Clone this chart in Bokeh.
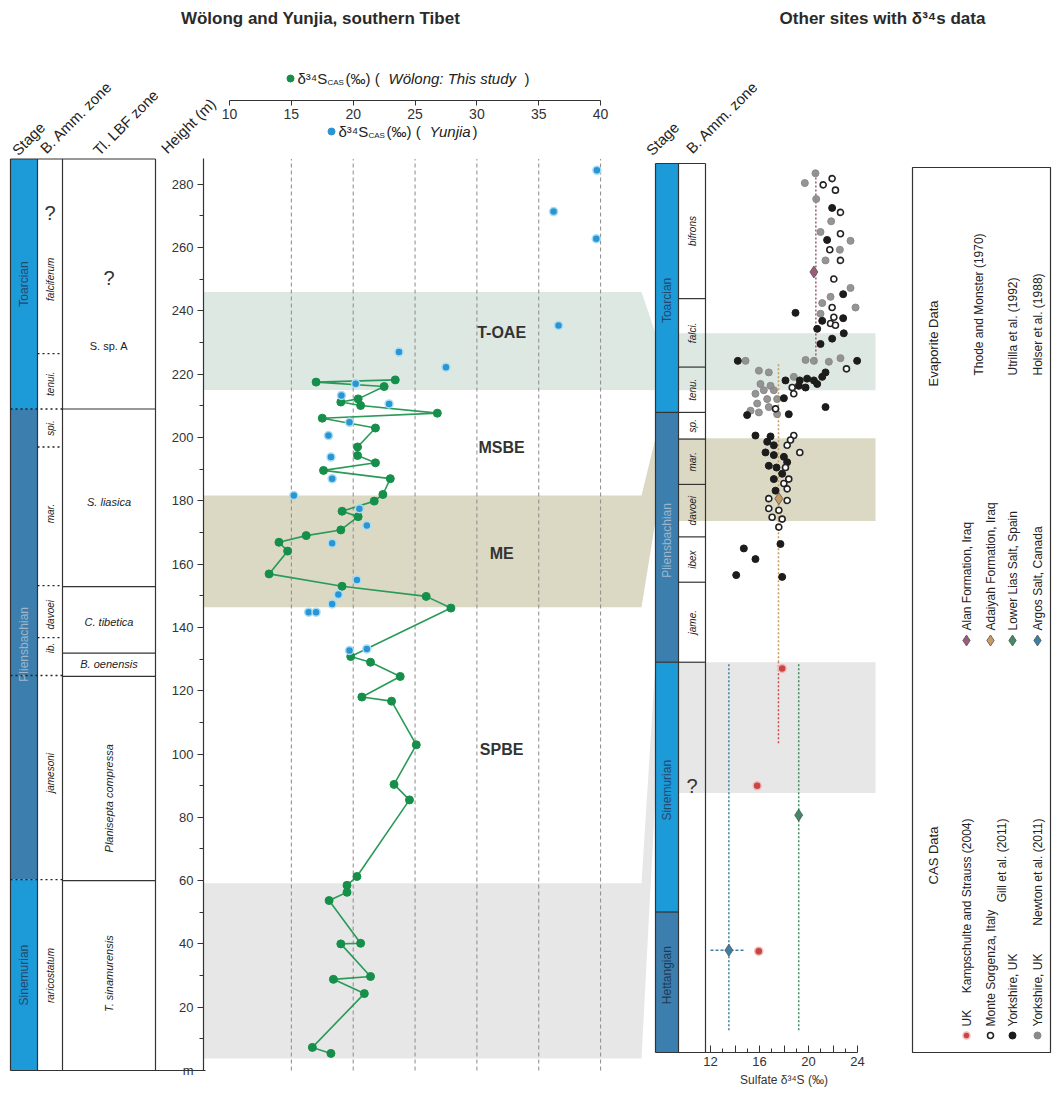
import numpy as np
from bokeh.plotting import figure
from bokeh.models import Range1d, LinearAxis, FixedTicker
from bokeh.core.properties import value
from bokeh.embed import file_html
from bokeh.resources import INLINE

FONT = "Liberation Sans"
W, H, M = 1052, 1093, 0

# ================= DATA =================
# Wolong (this study): height (m) and d34S_CAS (permil)
wol_height = [218.2, 217.5, 216.1, 212.2, 211.2, 210.1, 207.7, 206.1, 203.0, 197.0, 194.3, 192.0,
              189.6, 187.0, 182.0, 179.9, 176.7, 175.0, 170.8, 169.0, 166.9, 164.1, 156.9, 153.0,
              149.8, 146.1, 130.8, 129.0, 124.5, 118.0, 116.7, 102.9, 90.4, 85.5, 61.3, 58.5,
              56.3, 53.7, 40.2, 40.0, 29.7, 28.8, 24.3, 7.3, 5.4]
wol_d34s = [23.4, 17.0, 22.5, 20.4, 19.0, 20.6, 26.8, 17.5, 21.8, 20.35, 20.35, 21.8,
            17.6, 23.0, 22.4, 21.7, 19.1, 20.4, 19.0, 16.2, 14.0, 14.7, 13.2, 19.1,
            25.9, 27.9, 19.8, 21.4, 23.8, 20.7, 23.1, 25.1, 23.3, 24.55, 20.3, 19.5,
            19.5, 18.05, 20.6, 19.0, 21.4, 18.4, 20.9, 16.7, 18.2]
# Yunjia
yun_height = [284.4, 271.4, 262.8, 235.4, 227.0, 222.2, 217.0, 213.3, 210.6, 204.8, 200.6, 193.8,
              187.0, 181.7, 177.5, 172.2, 166.6, 155.0, 150.4, 147.4, 144.8, 144.8, 133.2, 132.7]
yun_d34s = [39.7, 36.2, 39.65, 36.6, 23.7, 27.5, 20.2, 19.05, 22.9, 19.7, 18.0, 18.2,
            18.3, 15.2, 20.5, 21.1, 18.3, 20.3, 18.8, 18.3, 16.4, 17.0, 21.1, 19.7]

event_names = ["T-OAE", "MSBE", "ME", "SPBE"]
event_height = [233.3, 196.9, 163.3, 101.3]
event_x = [32.0, 32.0, 32.0, 32.0]

# event bands: left (height, m) and right (relative position 0-100)
band_left_bot = [215.0, 146.4, 3.8]
band_left_top = [246.0, 181.7, 59.2]
band_right_bot = [74.5, 59.8, 29.2]
band_right_top = [80.9, 69.1, 43.9]
band_colors = ["#dde8e2", "#dbd9c4", "#e7e7e7"]

# left stratigraphy (height, m)
stage_names = ["Toarcian", "Pliensbachian", "Sinemurian"]
stage_top = [288.0, 209.0, 60.3]
stage_bot = [209.0, 60.3, 0.0]
stage_fill = ["#1d9ad8", "#3c7fae", "#1d9ad8"]
stage_text_col = ["#24486c", "#9fb6cb", "#24486c"]

amm_names = ["falciferum", "tenui.", "spi.", "mar.", "davoei", "ib.", "jamesoni", "raricostatum"]
amm_mid = [250.0, 217.0, 203.0, 176.0, 144.0, 133.5, 94.0, 30.0]
amm_q_height = 271.0
amm_dotted = [226.5, 197.0, 153.2, 136.8]
stage_dotted = [209.0, 124.8, 60.3]

lbf_names_h = ["S. sp. A", "S. liasica", "C. tibetica", "B. oenensis"]
lbf_mid_h = [229.0, 179.6, 141.6, 128.3]
lbf_names_v = ["Planisepta compressa", "T. sinamurensis"]
lbf_mid_v = [86.0, 30.6]
lbf_q_height = 250.5
lbf_bounds = [209.0, 152.9, 131.9, 124.5, 60.0]

height_ticks = list(range(0, 281, 20))
height_minor = list(range(10, 290, 20))
top_ticks = [10, 15, 20, 25, 30, 35, 40]

# right panel: relative stratigraphic position (0 base - 100 top)
r_stage_names = ["Toarcian", "Pliensbachian", "Sinemurian", "Hettangian"]
r_stage_top = [100.0, 72.0, 43.9, 15.8]
r_stage_bot = [72.0, 43.9, 15.8, 0.0]
r_stage_mid = [84.6, 57.6, 29.5, 8.7]
r_stage_fill = ["#1d9ad8", "#3c7fae", "#1d9ad8", "#3c7fae"]
r_stage_text_col = ["#24486c", "#9fb6cb", "#24486c", "#1f3a56"]
r_zone_names = ["bifrons", "falci.", "tenu.", "sp.", "mar.", "davoei", "ibex", "jame."]
r_zone_top = [100.0, 84.8, 77.1, 72.0, 69.0, 63.9, 58.0, 52.9]
r_zone_bot = [84.8, 77.1, 72.0, 69.0, 63.9, 58.0, 52.9, 43.9]
r_q_pos = 30.0

# CAS data
newton_d34s = [20.57, 19.70, 20.63, 21.85, 20.98, 23.43, 22.56, 21.39, 23.43, 21.80, 21.12, 23.84,
               20.98, 14.86, 19.76, 20.44, 21.66, 22.61, 15.95, 16.76, 18.80, 16.08, 16.90, 17.17,
               16.35, 15.67, 16.63, 17.44, 15.81, 16.76, 15.27, 15.95, 17.44]
newton_pos = [98.9, 97.8, 96.0, 93.5, 92.3, 91.3, 90.3, 89.1, 86.0, 85.0, 84.3, 83.8,
              83.1, 77.8, 77.9, 77.8, 77.7, 78.1, 76.7, 76.5, 76.0, 75.2, 75.0, 74.5,
              74.5, 74.1, 73.5, 73.5, 73.0, 72.6, 72.2, 72.0, 71.8]
gill_ms_d34s = [21.93, 21.20, 22.20, 22.61, 21.74, 22.61, 22.61, 22.07, 21.93, 22.07, 21.80, 22.20,
                23.10, 18.67, 18.80, 17.31, 18.80, 18.53, 18.26, 19.29, 18.12, 18.39, 17.99, 18.26,
                16.76, 18.26, 16.76, 17.58, 17.03, 17.85, 17.58]
gill_ms_pos = [98.3, 97.6, 97.0, 94.5, 90.3, 92.1, 89.1, 87.0, 83.8, 82.7, 82.0, 81.8,
               76.9, 74.8, 74.1, 72.4, 69.4, 68.9, 68.3, 67.5, 65.8, 64.5, 64.0, 63.4,
               62.3, 62.1, 61.2, 61.0, 60.2, 60.0, 59.1]
gill_yk_d34s = [21.93, 21.52, 22.83, 18.94, 21.12, 22.83, 20.71, 22.88, 21.93, 20.98, 14.23, 23.97,
                18.12, 19.29, 19.89, 20.44, 21.12, 21.39, 19.21, 19.76, 20.71, 17.99, 21.39, 18.39,
                14.99, 15.67, 16.90, 16.63, 17.17, 16.49, 17.17, 17.99, 18.26, 16.76, 17.39, 17.85,
                17.17, 17.31, 17.71, 14.72, 15.67, 14.10, 17.85]
gill_yk_pos = [95.0, 91.4, 85.3, 83.2, 82.3, 82.6, 81.4, 80.9, 80.3, 79.7, 77.8, 77.8,
               75.6, 75.6, 75.8, 75.6, 76.0, 76.5, 75.0, 74.8, 75.2, 73.6, 72.6, 71.8,
               71.7, 69.4, 69.3, 68.7, 68.3, 67.5, 67.2, 67.0, 66.4, 66.0, 65.8, 65.1,
               64.5, 63.2, 57.2, 56.7, 55.5, 53.7, 53.5]
kamp_d34s = [17.85, 15.81, 15.94]
kamp_pos = [43.2, 30.0, 11.4]

# Evaporite data (diamond, mean line)
evap_names = ["Alan Formation, Iraq", "Adaiyah Formation, Iraq", "Lower Lias Salt, Spain", "Argos Salt, Canada"]
evap_d34s = [20.44, 17.58, 19.2, 13.5]
evap_pos = [87.8, 62.3, 26.7, 11.5]
evap_line_x = [20.6, 17.55, 19.2, 13.5]
evap_line_bot = [77.5, 43.9, 2.5, 2.5]
evap_line_top = [99.2, 77.5, 43.9, 43.9]
evap_colors = ["#9b5b7b", "#c99a62", "#3f8b62", "#3f7ea3"]
argos_err = [12.0, 14.7]
kamp_line_x = 17.55
kamp_line = [34.8, 43.9]

# ================= LAYOUT (page pixels) =================
def cx(px):
    return px - M

def cy(py):
    return py - M

L_X10, L_PPU = 229.0, 12.37        # x of 10 permil, px per permil
L_H0, L_PPM = 1070.0, 3.165        # y of 0 m, px per m
R_X12, R_PPU = 710.0, 12.25
R_P0, R_PPP = 1052.0, 8.89

def h2cy(h):
    return cy(L_H0) - h * L_PPM

def p2cy(pos):
    return cy(R_P0) - pos * R_PPP

p = figure(width=W, height=H, x_range=Range1d(0, W), y_range=Range1d(H, 0),
           x_axis_type=None, y_axis_type=None, toolbar_location=None,
           output_backend="svg", min_border=0)
p.outline_line_color = None
p.background_fill_color = "white"
p.border_fill_color = "white"
p.extra_x_ranges = {
    "lx": Range1d(10 - cx(L_X10) / L_PPU, 10 + (W - cx(L_X10)) / L_PPU),
    "rx": Range1d(12 - cx(R_X12) / R_PPU, 12 + (W - cx(R_X12)) / R_PPU),
}
p.extra_y_ranges = {
    "ly": Range1d((cy(L_H0) - H) / L_PPM, cy(L_H0) / L_PPM),
    "ry": Range1d((cy(R_P0) - H) / R_PPP, cy(R_P0) / R_PPP),
}

def T(x, y, txt, size=12, align="center", baseline="middle", angle=0.0, style="normal",
      color="#222222", **kw):
    txts = txt if isinstance(txt, list) else [txt]
    n = len(txts)
    xs_ = x if isinstance(x, list) else [x] * n
    ys_ = y if isinstance(y, list) else [y] * n
    cols = color if isinstance(color, list) else [color] * n
    p.text(x=xs_, y=ys_, text=txts, angle=angle,
           text_font=value(FONT), text_font_size=f"{size}px", text_font_style=style,
           text_align=align, text_baseline=baseline, text_color=cols, **kw)

# ---- event bands (left + connector + right) ----
xs, ys = [], []
for lb, lt, rb, rt in zip(band_left_bot, band_left_top, band_right_bot, band_right_top):
    xs.append([cx(203), cx(641), cx(655), cx(875), cx(875), cx(655), cx(641), cx(203)])
    ys.append([h2cy(lt), h2cy(lt), p2cy(rt), p2cy(rt), p2cy(rb), p2cy(rb), h2cy(lb), h2cy(lb)])
p.patches(xs=xs, ys=ys, fill_color=band_colors, line_color=None)

# ---- gridlines ----
grid_v = top_ticks[1:]
p.segment(x0=grid_v, y0=[0] * len(grid_v), x1=grid_v, y1=[288] * len(grid_v),
          x_range_name="lx", y_range_name="ly", line_color="#8a8a8a", line_dash="4 3", line_width=1)

# ---- left stratigraphic columns ----
p.quad(left=[cx(10)] * 3, right=[cx(37)] * 3, bottom=stage_bot, top=stage_top,
       fill_color=stage_fill, line_color=None, y_range_name="ly")
T(cx(23.5), [(t + b) / 2 for t, b in zip(stage_top, stage_bot)], stage_names, 12,
  angle=np.pi / 2, color=stage_text_col, y_range_name="ly")
col_x = [cx(10), cx(37), cx(62), cx(155)]
p.segment(x0=col_x, y0=[0] * 4, x1=col_x, y1=[288] * 4, y_range_name="ly",
          line_color="#333333", line_width=1.2)
p.segment(x0=[cx(10), cx(10)], y0=[288, 0], x1=[cx(155), cx(205)], y1=[288, 0],
          y_range_name="ly", line_color="#333333", line_width=1.2)
p.segment(x0=[cx(62)] * len(lbf_bounds), y0=lbf_bounds, x1=[cx(155)] * len(lbf_bounds), y1=lbf_bounds,
          y_range_name="ly", line_color="#333333", line_width=1.2)
p.segment(x0=[cx(37)] * len(amm_dotted), y0=amm_dotted, x1=[cx(62)] * len(amm_dotted), y1=amm_dotted,
          y_range_name="ly", line_color="#222222", line_width=1.3, line_dash="2 3")
p.segment(x0=[cx(10)] * len(stage_dotted), y0=stage_dotted, x1=[cx(62)] * len(stage_dotted), y1=stage_dotted,
          y_range_name="ly", line_color="#222222", line_width=1.3, line_dash="2 3")
T(cx(49.5), amm_mid, amm_names, 10, angle=np.pi / 2, style="italic", y_range_name="ly")
T(cx(49.5), amm_q_height, "?", 20, y_range_name="ly", color="#333333")
T(cx(108.5), lbf_q_height, "?", 20, y_range_name="ly", color="#333333")
T(cx(108.5), lbf_mid_h[0], lbf_names_h[0], 11, y_range_name="ly")
T(cx(108.5), lbf_mid_h[1:], lbf_names_h[1:], 11, style="italic", y_range_name="ly")
T(cx(108.5), lbf_mid_v, lbf_names_v, 11, angle=np.pi / 2, style="italic", y_range_name="ly")

# height axis
h_axis = LinearAxis(y_range_name="ly", fixed_location=cx(203), bounds=(0, 288),
                    ticker=FixedTicker(ticks=height_ticks, minor_ticks=height_minor),
                    major_label_overrides={0: "m"}, major_tick_out=6, major_tick_in=0,
                    minor_tick_out=4, minor_tick_in=0, major_label_standoff=4,
                    major_label_text_font=FONT, major_label_text_font_size="13px",
                    major_label_text_color="#333333", axis_line_color="#333333",
                    major_tick_line_color="#333333", minor_tick_line_color="#333333",
                    axis_line_width=1.2)
p.add_layout(h_axis, "left")

# top d34S axis
t_axis = LinearAxis(x_range_name="lx", fixed_location=cy(100), bounds=(10, 40),
                    ticker=FixedTicker(ticks=top_ticks, minor_ticks=[]),
                    major_tick_out=5, major_tick_in=0, minor_tick_out=0, minor_tick_in=0,
                    major_label_standoff=3, major_label_text_font=FONT,
                    major_label_text_font_size="14px", major_label_text_color="#333333",
                    axis_line_color="#333333", major_tick_line_color="#333333", axis_line_width=1.2)
p.add_layout(t_axis, "below")

# ---- left data ----
p.line(wol_d34s, wol_height, x_range_name="lx", y_range_name="ly", line_color="#2a9a58", line_width=1.6)
p.scatter(wol_d34s, wol_height, x_range_name="lx", y_range_name="ly", size=8,
          fill_color="#158f49", line_color="#158f49")
p.scatter(yun_d34s, yun_height, x_range_name="lx", y_range_name="ly", size=8,
          fill_color="#2b95d3", line_color="#a8def5", line_width=1.5)
T(event_x, event_height, event_names, 16, style="bold", color="#333333",
  x_range_name="lx", y_range_name="ly")

# ---- right columns ----
p.quad(left=[cx(655)] * 4, right=[cx(678)] * 4, bottom=r_stage_bot, top=r_stage_top,
       fill_color=r_stage_fill, line_color=None, y_range_name="ry")
T(cx(666.5), r_stage_mid, r_stage_names, 12, angle=np.pi / 2, color=r_stage_text_col, y_range_name="ry")
r_col_x = [cx(655), cx(678), cx(705)]
p.segment(x0=r_col_x, y0=[0] * 3, x1=r_col_x, y1=[100] * 3, y_range_name="ry",
          line_color="#333333", line_width=1.2)
p.segment(x0=[cx(655), cx(655)], y0=[100, 0], x1=[cx(705), cx(710)], y1=[100, 0],
          y_range_name="ry", line_color="#333333", line_width=1.2)
p.segment(x0=[cx(678)] * len(r_zone_bot), y0=r_zone_bot, x1=[cx(705)] * len(r_zone_bot), y1=r_zone_bot,
          y_range_name="ry", line_color="#333333", line_width=1.2)
p.segment(x0=[cx(655)] * 3, y0=r_stage_bot[:3], x1=[cx(678)] * 3, y1=r_stage_bot[:3],
          y_range_name="ry", line_color="#333333", line_width=1.2)
T(cx(691.5), [(a + b) / 2 for a, b in zip(r_zone_top, r_zone_bot)], r_zone_names, 10,
  angle=np.pi / 2, style="italic", y_range_name="ry")
T(cx(691.5), r_q_pos, "?", 20, color="#333333", y_range_name="ry")

# right axis
r_axis = LinearAxis(x_range_name="rx", fixed_location=cy(1052), bounds=(12, 24),
                    ticker=FixedTicker(ticks=[12, 14, 16, 18, 20, 22, 24], minor_ticks=[13, 15, 17, 19, 21, 23]),
                    major_label_overrides={14: "", 18: "", 22: ""},
                    major_tick_in=7, major_tick_out=0, minor_tick_in=4, minor_tick_out=0,
                    major_label_standoff=4, major_label_text_font=FONT,
                    major_label_text_font_size="13px", major_label_text_color="#333333",
                    axis_label="Sulfate δ³⁴S (‰)", axis_label_text_font=FONT,
                    axis_label_text_font_size="12px", axis_label_text_font_style="normal",
                    axis_label_standoff=4, axis_label_text_color="#333333",
                    axis_line_color="#333333", major_tick_line_color="#333333",
                    minor_tick_line_color="#333333", axis_line_width=1.2)
p.add_layout(r_axis, "below")

# ---- right data ----
p.segment(x0=evap_line_x, y0=evap_line_bot, x1=evap_line_x, y1=evap_line_top,
          x_range_name="rx", y_range_name="ry", line_color=evap_colors, line_width=1.5, line_dash="2 2")
p.segment(x0=[kamp_line_x], y0=[kamp_line[0]], x1=[kamp_line_x], y1=[kamp_line[1]],
          x_range_name="rx", y_range_name="ry", line_color="#d05050", line_width=1.5, line_dash="2 2")
p.segment(x0=[argos_err[0]], y0=[evap_pos[3]], x1=[argos_err[1]], y1=[evap_pos[3]],
          x_range_name="rx", y_range_name="ry", line_color=evap_colors[3], line_width=1.5, line_dash="3 2")
p.scatter(newton_d34s, newton_pos, x_range_name="rx", y_range_name="ry", size=7,
          fill_color="#8a8a8a", line_color="#8a8a8a", fill_alpha=0.9)
p.scatter(gill_yk_d34s, gill_yk_pos, x_range_name="rx", y_range_name="ry", size=7,
          fill_color="#1c1c1c", line_color="#1c1c1c")
p.scatter(gill_ms_d34s, gill_ms_pos, x_range_name="rx", y_range_name="ry", size=6,
          fill_color="white", line_color="#222222", line_width=1.6)
p.scatter(kamp_d34s, kamp_pos, x_range_name="rx", y_range_name="ry", size=8,
          fill_color="#c94545", line_color="#f2b8b8", line_width=1.5)
p.scatter(evap_d34s, evap_pos, x_range_name="rx", y_range_name="ry", marker="diamond", size=12,
          fill_color=evap_colors, line_color="#555555", line_width=0.8)

# ---- titles & headers ----
T(cx(320), cy(18), "Wölong and Yunjia, southern Tibet", 17, style="bold", color="#2a2a2a")
T(cx(882), cy(18), "Other sites with δ³⁴s data", 17, style="bold", color="#2a2a2a")
hdr_angle = np.pi / 4
T(cx(14), cy(152), "Stage", 15, align="left", baseline="alphabetic", angle=hdr_angle)
T(cx(42), cy(150), "B. Amm. zone", 15, align="left", baseline="alphabetic", angle=hdr_angle)
T(cx(95), cy(152), "Tl. LBF zone", 15, align="left", baseline="alphabetic", angle=hdr_angle)
T(cx(163), cy(150), "Height (m)", 15, align="left", baseline="alphabetic", angle=hdr_angle)
T(cx(648), cy(152), "Stage", 15, align="left", baseline="alphabetic", angle=hdr_angle)
T(cx(688), cy(150), "B. Amm. zone", 15, align="left", baseline="alphabetic", angle=hdr_angle)

# top legend rows (green / blue)
p.scatter([cx(290)], [cy(78)], size=7, fill_color="#158f49", line_color="#158f49")
T(cx(297), cy(78), "δ³⁴S", 15, align="left")
T(cx(327), cy(82), "CAS", 8, align="left")
T(cx(345), cy(78), "(‰)  (", 15, align="left")
T(cx(388), cy(78), "Wölong: This study", 15, align="left", style="italic")
T(cx(524), cy(78), ")", 15, align="left")
p.scatter([cx(331)], [cy(131)], size=7, fill_color="#2b95d3", line_color="#2b95d3")
T(cx(338), cy(131), "δ³⁴S", 15, align="left")
T(cx(368), cy(135), "CAS", 8, align="left")
T(cx(386), cy(131), "(‰)  (", 15, align="left")
T(cx(429), cy(131), "Yunjia", 15, align="left", style="italic")
T(cx(472), cy(131), ")", 15, align="left")

# ---- legend box ----
p.quad(left=[cx(912)], right=[cx(1050)], top=[cy(167)], bottom=[cy(1052)],
       fill_color=None, line_color="#333333", line_width=1.2)
rows_x = [cx(966), cx(990), cx(1012), cx(1037)]
T(cx(933), cy(855), "CAS Data", 13, angle=np.pi / 2)
T(cx(933), cy(343), "Evaporite Data", 13, angle=np.pi / 2)
p.scatter([rows_x[0]], [cy(1035)], size=7, fill_color="#c94545", line_color="#f2b8b8", line_width=1.5)
p.scatter([rows_x[1]], [cy(1035)], size=6, fill_color="white", line_color="#222222", line_width=1.6)
p.scatter([rows_x[2]], [cy(1035)], size=7, fill_color="#1c1c1c", line_color="#1c1c1c")
p.scatter([rows_x[3]], [cy(1035)], size=7, fill_color="#8a8a8a", line_color="#8a8a8a")
T(rows_x, [cy(1026)] * 4, ["UK", "Monte Sorgenza, Italy", "Yorkshire, UK", "Yorkshire, UK"], 12,
  align="left", angle=np.pi / 2)
T([cx(966), cx(1001), cx(1037)], [cy(818)] * 3,
  ["Kampschulte and Strauss (2004)", "Gill et al. (2011)", "Newton et al. (2011)"], 12,
  align="right", angle=np.pi / 2)
p.scatter(rows_x, [cy(640)] * 4, marker="diamond", size=11, fill_color=evap_colors,
          line_color="#555555", line_width=0.8)
T(rows_x, [cy(630)] * 4, evap_names, 12, align="left", angle=np.pi / 2)
T([cx(978), cx(1012), cx(1037)], [cy(375)] * 3,
  ["Thode and Monster (1970)", "Utrilla et al. (1992)", "Holser et al. (1988)"], 12,
  align="left", angle=np.pi / 2)

open("out.html", "w").write(file_html(p, INLINE))
